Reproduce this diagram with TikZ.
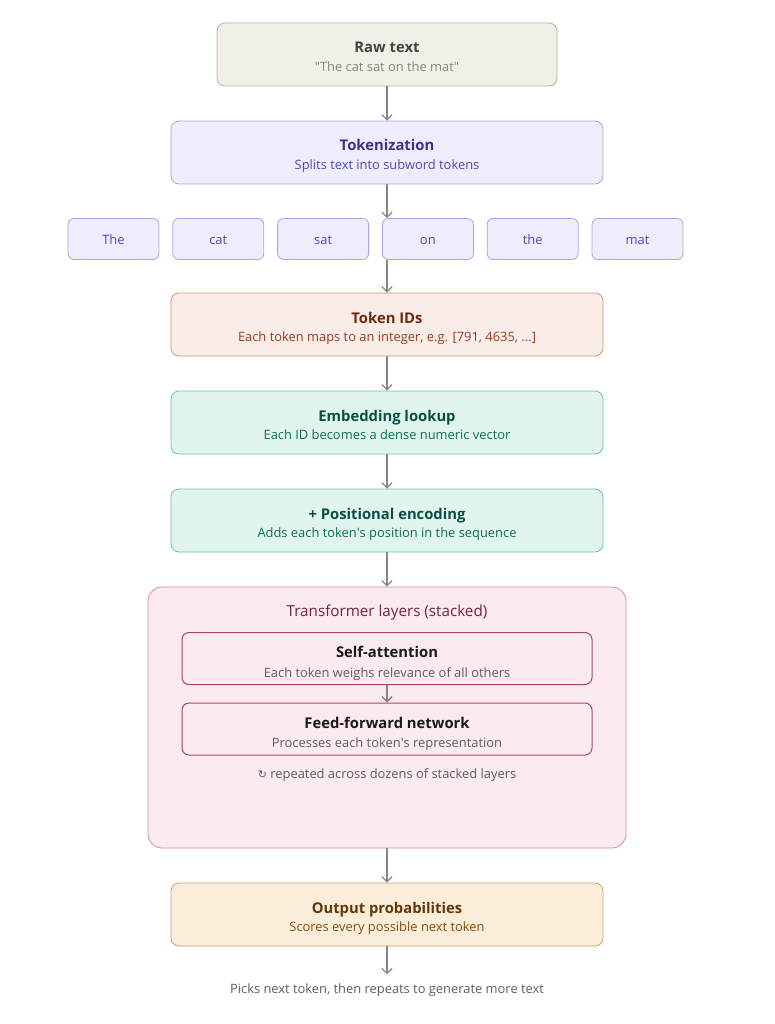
\documentclass[tikz,border=0pt]{standalone}
\usepackage{fontspec}
\setmainfont{Open Sans}
\newfontfamily\symfont{DejaVu Sans}
\usetikzlibrary{arrows.meta,positioning}

% palette
\definecolor{rawFill}{HTML}{F1EFE8}
\definecolor{rawLine}{HTML}{B4B2A9}
\definecolor{rawTitle}{HTML}{444441}
\definecolor{rawSub}{HTML}{888780}
\definecolor{purFill}{HTML}{EEEDFE}
\definecolor{purLine}{HTML}{A9A3EA}
\definecolor{purTitle}{HTML}{3C3489}
\definecolor{purSub}{HTML}{534AB7}
\definecolor{corFill}{HTML}{FAECE7}
\definecolor{corLine}{HTML}{D99078}
\definecolor{corTitle}{HTML}{712B13}
\definecolor{corSub}{HTML}{993C1D}
\definecolor{tealFill}{HTML}{E1F5EE}
\definecolor{tealLine}{HTML}{6FC2A4}
\definecolor{tealTitle}{HTML}{085041}
\definecolor{tealSub}{HTML}{0F6E56}
\definecolor{pinkFill}{HTML}{FBEAF0}
\definecolor{pinkLine}{HTML}{D98AA5}
\definecolor{pinkInner}{HTML}{A8456C}
\definecolor{pinkTitle}{HTML}{72243E}
\definecolor{ambFill}{HTML}{FAEEDA}
\definecolor{ambLine}{HTML}{C9A26A}
\definecolor{ambTitle}{HTML}{633806}
\definecolor{ambSub}{HTML}{854F0B}
\definecolor{inkDark}{HTML}{1A1A1A}
\definecolor{inkGray}{HTML}{5F5E5A}
\definecolor{arrowGray}{HTML}{888780}

\tikzset{
  stage/.style={draw, rounded corners=8pt, line width=0.8pt, minimum width=432pt,
    minimum height=63pt, inner sep=0pt},
  inner/.style={draw=pinkInner, fill=pinkFill, rounded corners=7pt, line width=1pt,
    minimum width=410pt, minimum height=52pt, inner sep=0pt},
  ttl/.style={inner sep=0pt, anchor=base, font=\fontsize{14.8}{17}\selectfont\bfseries},
  sbt/.style={inner sep=0pt, anchor=base, font=\fontsize{12.9}{15}\selectfont},
  tokbox/.style={draw=purLine, fill=purFill, rounded corners=6pt, line width=0.8pt,
    minimum width=91pt, minimum height=41pt, inner sep=0pt, text=purSub,
    text height=11pt, text depth=0pt, font=\fontsize{13}{15}\selectfont},
  flow/.style={draw=arrowGray, line width=1.3pt, -{Straight Barb[length=5pt,width=10pt]}},
  note/.style={inner sep=0pt, text=inkGray, font=\fontsize{12.9}{15}\selectfont}
}

% title and subtitle of a box: name, title colour, sub colour, title, sub
\newcommand{\boxtext}[5]{%
  \node[ttl, text=#2] (#1-t) at ([yshift=1.5pt]#1.center) {#4};
  \node[sbt, text=#3] (#1-s) at ([yshift=-17pt]#1.center) {#5};}
\newcommand{\innertext}[3]{%
  \node[ttl, text=inkDark] (#1-t) at ([yshift=1pt]#1.center) {#2};
  \node[sbt, text=inkGray] (#1-s) at ([yshift=-18.5pt]#1.center) {#3};}

\begin{document}
\begin{tikzpicture}[x=1pt, y=-1pt]

    \fill[white] (0,0) rectangle (774,1024);
    \useasboundingbox (0,0) rectangle (774,1024);

    % Input
    \node[stage, fill=rawFill, draw=rawLine, minimum width=340pt] (raw) at (387,54.5) {};
    \boxtext{raw}{rawTitle}{rawSub}{Raw text}{\textquotedbl The cat sat on the mat\textquotedbl}

    \node[stage, fill=purFill, draw=purLine] (tokn) at (387,152.5) {};
    \boxtext{tokn}{purTitle}{purSub}{Tokenization}{Splits text into subword tokens}

    % Token row
    \foreach \w [count=\i] in {The,cat,sat,on,the,mat}
      \node[tokbox] (t\i) at ({113.5+104.8*(\i-1)},239) {\w};

    \node[stage, fill=corFill, draw=corLine] (ids) at (387,324.5) {};
    \boxtext{ids}{corTitle}{corSub}{Token IDs}{Each token maps to an integer, e.g. [791, 4635, ...]}

    \node[stage, fill=tealFill, draw=tealLine] (emb) at (387,422.5) {};
    \boxtext{emb}{tealTitle}{tealSub}{Embedding lookup}{Each ID becomes a dense numeric vector}

    \node[stage, fill=tealFill, draw=tealLine] (pos) at (387,520.5) {};
    \boxtext{pos}{tealTitle}{tealSub}{+ Positional encoding}{Adds each token\textquotesingle s position in the sequence}

    % Transformer stack
    \node[draw=pinkLine, fill=pinkFill, rounded corners=14pt, line width=0.8pt,
      minimum width=478pt, minimum height=261pt, inner sep=0pt] (trf) at (387,717.5) {};
    \node[inner sep=0pt, text=pinkTitle, font=\fontsize{15.2}{17}\selectfont] (trftitle) at (387,613)
      {Transformer layers (stacked)};
    \node[inner] (sa) at (387,658.5) {};
    \innertext{sa}{Self-attention}{Each token weighs relevance of all others}
    \node[inner] (ff) at (387,729) {};
    \innertext{ff}{Feed-forward network}{Processes each token\textquotesingle s representation}
    \node[note] (rep) at (387,775) {{\symfont\fontsize{11}{13}\selectfont ↻} repeated across dozens of stacked layers};

    \node[stage, fill=ambFill, draw=ambLine] (outp) at (387,914.5) {};
    \boxtext{outp}{ambTitle}{ambSub}{Output probabilities}{Scores every possible next token}

    \node[note] (pick) at (387,990) {Picks next token, then repeats to generate more text};

    % Connectors
    \draw[flow] (raw) -- (tokn);
    \draw[flow] (tokn.south) -- (tokn.south |- t4.north);
    \draw[flow] (tokn.south |- t4.south) -- (ids.north);
    \draw[flow] (ids) -- (emb);
    \draw[flow] (emb) -- (pos);
    \draw[flow] (pos) -- (trf);
    \draw[flow] (sa) -- (ff);
    \draw[flow] (trf) -- (outp);
    \draw[flow] (outp.south) -- ([yshift=9pt]pick.north);

\end{tikzpicture}
\end{document}
